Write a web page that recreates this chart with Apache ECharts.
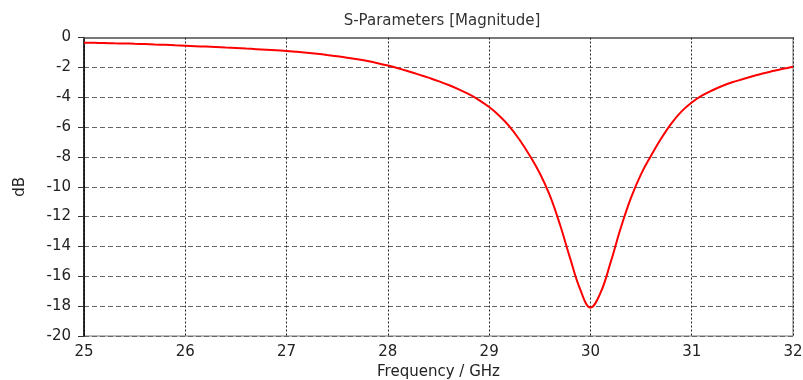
<!DOCTYPE html>
<html><head><meta charset="utf-8">
<script src="https://cdn.jsdelivr.net/npm/echarts@6/dist/echarts.min.js"></script>
<style>html,body{margin:0;padding:0;background:#fff}#c{width:803px;height:380px}</style>
</head><body><div id="c"></div>
<script>
const freqGHz = [25.0,25.1,25.2,25.3,25.4,25.5,25.6,25.7,25.8,25.9,
  26.0,26.1,26.2,26.3,26.4,26.5,26.6,26.7,26.8,26.9,
  27.0,27.1,27.2,27.3,27.4,27.5,27.6,27.7,27.8,27.9,
  28.0,28.1,28.2,28.3,28.4,28.5,28.6,28.7,28.8,28.9,
  29.0,29.1,29.2,29.3,29.4,29.5,29.6,29.7,29.8,29.9,
  30.0,30.1,30.2,30.3,30.4,30.5,30.6,30.7,30.8,30.9,
  31.0,31.1,31.2,31.3,31.4,31.5,31.6,31.7,31.8,31.9,32.0];
const s11dB = [-0.35,-0.36,-0.37,-0.39,-0.40,-0.42,-0.44,-0.47,-0.49,-0.52,
  -0.55,-0.58,-0.61,-0.64,-0.67,-0.70,-0.74,-0.78,-0.82,-0.86,
  -0.90,-0.96,-1.02,-1.09,-1.17,-1.25,-1.35,-1.46,-1.58,-1.72,
  -1.88,-2.06,-2.26,-2.47,-2.69,-2.92,-3.18,-3.47,-3.80,-4.19,
  -4.66,-5.24,-5.95,-6.85,-7.9,-9.1,-10.6,-12.55,-14.8,-16.9,
  -18.1,-17.1,-15.05,-12.75,-10.75,-9.15,-7.9,-6.75,-5.75,-4.95,
  -4.35,-3.9,-3.55,-3.25,-3.0,-2.8,-2.6,-2.41,-2.25,-2.1,-1.96];
const titleText = 'S-Parameters [Magnitude]';
const xName = 'Frequency / GHz';
const yName = 'dB';

const chart = echarts.init(document.getElementById('c'));
const font = 'DejaVu Sans';
chart.setOption({
  animation: false,
  title: {text: titleText, left: 437, top: 9, textAlign: 'center',
    textStyle: {fontFamily: font, fontSize: 15, fontWeight: 'normal', color: '#333'}},
  grid: {left: 84, right: 10, top: 37.5, bottom: 44, show: true, borderColor: '#777', borderWidth: 1,
    outerBoundsMode: 'none', containLabel: false},
  xAxis: {type: 'value', min: 25, max: 32, interval: 1,
    name: xName, nameLocation: 'middle', nameGap: 27,
    nameTextStyle: {fontFamily: font, fontSize: 15, color: '#222'},
    axisLine: {lineStyle: {color: '#777', width: 2}},
    axisTick: {show: true, length: 4, lineStyle: {color: '#333', type: [2,2]}},
    axisLabel: {fontFamily: font, fontSize: 15, color: '#222', margin: 9},
    splitLine: {show: true, lineStyle: {color: '#222', type: [2,2], width: 1}}},
  yAxis: {type: 'value', min: -20, max: 0, interval: 2,
    name: yName, nameLocation: 'middle', nameGap: 56, nameRotate: 90,
    nameTextStyle: {fontFamily: font, fontSize: 15, color: '#222'},
    axisLine: {show: true, lineStyle: {color: '#000', width: 1.5}},
    axisTick: {show: true, length: 6, lineStyle: {color: '#333'}},
    axisLabel: {fontFamily: font, fontSize: 15, color: '#222', margin: 13},
    splitLine: {show: true, lineStyle: {color: '#666', type: [5,3], width: 1}}},
  series: [{type: 'line', data: freqGHz.map((f,i)=>[f, s11dB[i]]), smooth: 0.4,
    showSymbol: false, lineStyle: {color: '#ff0000', width: 2}}]
});
</script></body></html>
